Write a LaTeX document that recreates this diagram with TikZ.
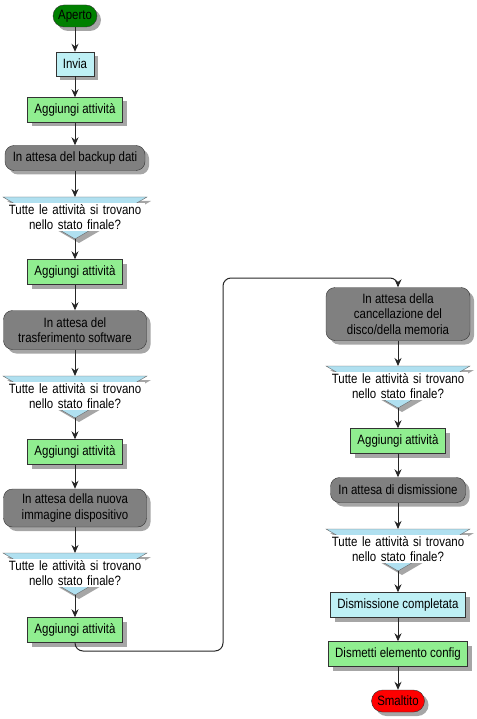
\documentclass[tikz,border=0pt]{standalone}
\usepackage{fontspec}
\setmainfont{Liberation Sans}[FakeStretch=0.85]
\usetikzlibrary{shadows,arrows.meta}
\definecolor{verdeavvio}{RGB}{0,128,0}
\definecolor{verdechiaro}{RGB}{144,238,144}
\definecolor{azzurro}{RGB}{190,240,245}
\definecolor{azzurrodom}{RGB}{176,224,240}
\definecolor{grigio}{RGB}{128,128,128}
\definecolor{rosso}{RGB}{255,0,0}
\tikzset{
	ombra/.style={drop shadow={shadow xshift=4pt,shadow yshift=-4pt,fill=black!35,opacity=1}},
	nd/.style={draw=black!80,ombra,font=\fontsize{13.5}{15.5}\selectfont,align=center,inner xsep=5pt,inner ysep=2pt,minimum height=25pt},
	azione/.style={nd,fill=verdechiaro,minimum width=95pt},
	evento/.style={nd,fill=azzurro},
	attesa/.style={nd,fill=grigio,rounded corners=9pt},
	capo/.style={nd,rounded corners=11pt,minimum height=22pt},
	qtri/.style={fill=azzurrodom,draw=black!60,ombra},
	qtesto/.style={fill=white,inner sep=0pt,text width=140pt,align=center,minimum height=28pt,font=\fontsize{13.5}{15.5}\selectfont},
	freccia/.style={-{Stealth[length=8pt,width=7pt]},draw=black!85,line width=1pt}
}
\newcommand{\domanda}[3]{%
	\coordinate (#1t) at (#2,#3);
	\coordinate (#1b) at (#2,#3+42);
	\path[qtri] (#2-72,#3) -- (#2+72,#3) -- (#1b) -- cycle;
	\node[qtesto] (#1) at (#2,#3+20) {Tutte le attività si trovano\\nello stato finale?};
}

\begin{document}
\begin{tikzpicture}[x=1pt,y=-1pt]
	\useasboundingbox (0,0) rectangle (476,719);
	% colonna sinistra
	\node[capo,fill=verdeavvio,minimum width=44pt] (a0) at (75,16) {Aperto};
	\node[evento,minimum width=38pt,minimum height=24pt] (a1) at (75,64) {Invia};
	\node[azione] (a2) at (75,110) {Aggiungi attività};
	\node[attesa,minimum width=140pt] (a3) at (75,158) {In attesa del backup dati};
	\domanda{q1}{75}{197}
	\node[azione] (a4) at (75,272) {Aggiungi attività};
	\node[attesa,minimum width=143pt,minimum height=39pt] (a5) at (75,330) {In attesa del\\trasferimento software};
	\domanda{q2}{75}{376}
	\node[azione] (a6) at (75,452) {Aggiungi attività};
	\node[attesa,minimum width=143pt,minimum height=38pt] (a7) at (75,508) {In attesa della nuova\\immagine dispositivo};
	\domanda{q3}{75}{553}
	\node[azione] (a8) at (75,630) {Aggiungi attività};
	% colonna destra
	\node[attesa,minimum width=144pt,minimum height=53pt] (b1) at (398,314) {In attesa della\\cancellazione del\\disco/della memoria};
	\domanda{q4}{398}{366}
	\node[azione] (b2) at (398,441) {Aggiungi attività};
	\node[attesa,minimum width=135pt] (b3) at (398,490) {In attesa di dismissione};
	\domanda{q5}{398}{529}
	\node[evento,minimum width=135pt] (b4) at (398,605) {Dismissione completata};
	\node[azione,minimum width=139pt] (b5) at (398,654) {Dismetti elemento config};
	\node[capo,fill=rosso,minimum width=53pt] (b6) at (398,701) {Smaltito};
	% frecce
	\foreach \da/\a in {a0/a1,a1/a2,a2/a3,a3/q1t,q1b/a4,a4/a5,a5/q2t,q2b/a6,a6/a7,a7/q3t,q3b/a8,
		b1/q4t,q4b/b2,b2/b3,b3/q5t,q5b/b4,b4/b5,b5/b6}
	\draw[freccia] (\da.south) -- (\a.north);
	\coordinate (giro1) at (223,651);
	\coordinate (giro2) at (223,278);
	\draw[freccia,rounded corners=8pt] (a8.south) |- (giro1) -- (giro2) -| (b1.north);
\end{tikzpicture}
\end{document}
